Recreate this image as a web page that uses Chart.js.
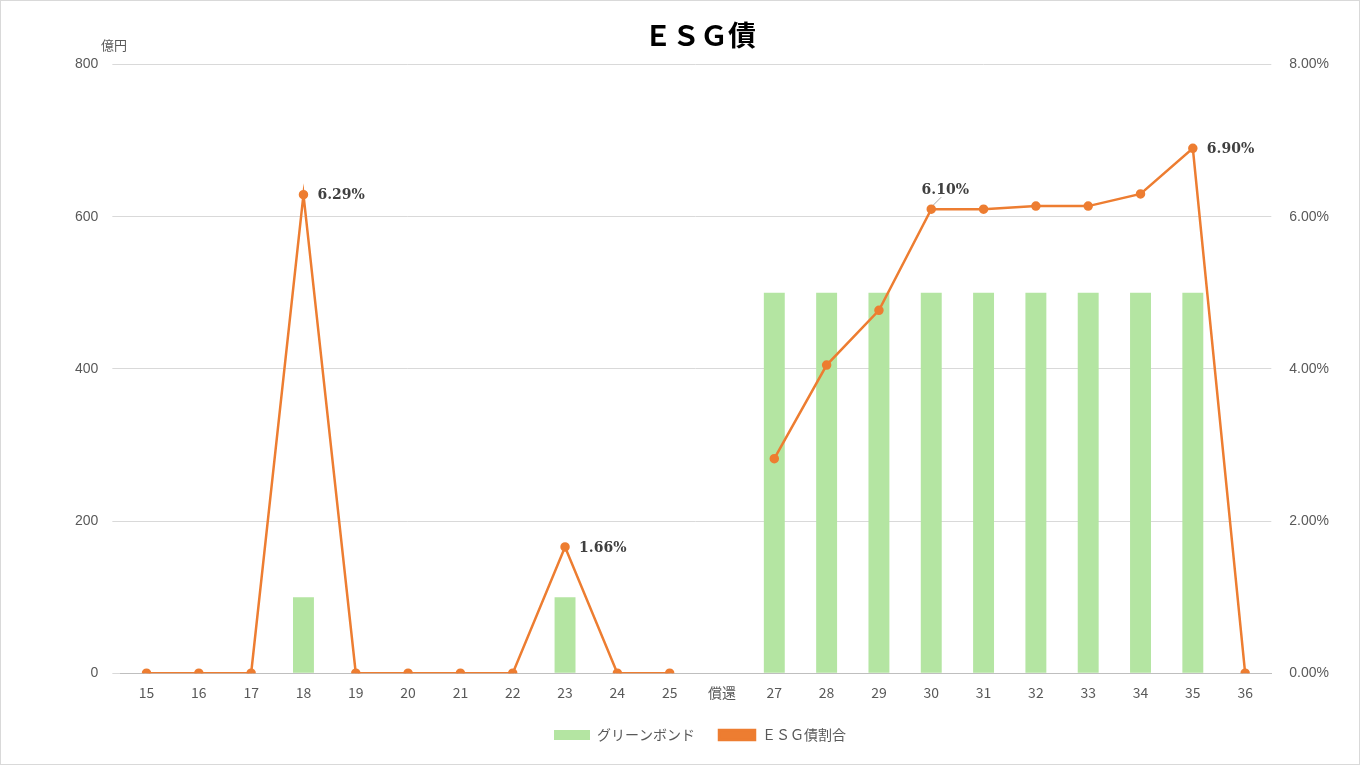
<!DOCTYPE html>
<html>
<head>
<meta charset="utf-8">
<script src="https://cdn.jsdelivr.net/npm/chart.js@4/dist/chart.umd.min.js"></script>
<style>
  html, body { margin: 0; padding: 0; background: #fff; }
  #wrap { position: relative; width: 1360px; height: 765px; box-sizing: border-box; border: 1px solid #d9d9d9; }
  #unit { position: absolute; left: 100px; top: 34px; font: 13px "Noto Sans CJK JP", sans-serif; color: #595959; }
</style>
</head>
<body>
<div id="wrap">
  <div id="unit">億円</div>
  <canvas id="c" width="1358" height="763"></canvas>
</div>
<script>
// categories and series
var categories = ['15','16','17','18','19','20','21','22','23','24','25','償還','27','28','29','30','31','32','33','34','35','36'];
var greenBond = [0,0,0,100,0,0,0,0,100,0,0,null,500,500,500,500,500,500,500,500,500,0];
var esgRatio  = [0,0,0,6.29,0,0,0,0,1.66,0,0,null,2.82,4.05,4.77,6.10,6.10,6.14,6.14,6.30,6.90,0];
var labelIdx  = [3, 8, 15, 20];

var pointLabels = {
    id: 'pointLabels',
    afterDatasetsDraw: function(chart) {
        var ctx = chart.ctx;
        var meta = chart.getDatasetMeta(0);
        ctx.save();
        ctx.font = 'bold 14px "DejaVu Serif", serif';
        ctx.fillStyle = '#404040';
        ctx.textBaseline = 'middle';
        labelIdx.forEach(function(i) {
            var p = meta.data[i];
            var txt = esgRatio[i].toFixed(2) + '%';
            if (i === 15) {
                ctx.strokeStyle = '#a6a6a6';
                ctx.lineWidth = 1;
                ctx.beginPath(); ctx.moveTo(p.x + 2, p.y - 4); ctx.lineTo(p.x + 10, p.y - 12); ctx.stroke();
                ctx.textAlign = 'center';
                ctx.fillText(txt, p.x + 14, p.y - 19);
            } else {
                ctx.textAlign = 'left';
                ctx.fillText(txt, p.x + 14, p.y + 1);
            }
        });
        ctx.restore();
    }
};

new Chart(document.getElementById('c'), {
    data: {
        labels: categories,
        datasets: [
            { type: 'line', label: 'ＥＳＧ債割合', data: esgRatio, yAxisID: 'y1', borderColor: '#ed7d31', backgroundColor: '#ed7d31',
              borderWidth: 2.5, pointRadius: 3.5, pointHoverRadius: 3.5, tension: 0, spanGaps: false, order: 0 },
            { type: 'bar', label: 'グリーンボンド', data: greenBond, yAxisID: 'y', backgroundColor: '#b4e5a2',
              categoryPercentage: 0.8, barPercentage: 0.5, order: 1 }
        ]
    },
    options: {
        responsive: false, animation: false,
        layout: { padding: { left: 60, right: 20, top: 18, bottom: 12 } },
        scales: {
            x: { grid: { display: false }, border: { color: '#bfbfbf' },
                 ticks: { color: '#595959', font: { size: 14, family: '"Noto Sans CJK JP", sans-serif' }, maxRotation: 0, autoSkip: false } },
            y: { min: 0, max: 800, ticks: { stepSize: 200, color: '#595959', font: { size: 14 }, padding: 14 },
                 grid: { color: '#d9d9d9' }, border: { display: false } },
            y1: { position: 'right', min: 0, max: 8, ticks: { stepSize: 2, color: '#595959', font: { size: 14 }, padding: 10,
                  callback: function(v) { return v.toFixed(2) + '%'; } }, grid: { display: false }, border: { display: false } }
        },
        plugins: {
            title: { display: true, text: 'ＥＳＧ債', color: '#000', font: { size: 28, weight: 'bold', family: '"Noto Sans CJK JP", sans-serif' }, padding: { top: 0, bottom: 12 } },
            legend: { position: 'bottom', reverse: true,
                      labels: { color: '#595959', font: { size: 14, family: '"Noto Sans CJK JP", sans-serif' }, boxWidth: 36, boxHeight: 10, padding: 24 } },
            tooltip: { enabled: false }
        }
    },
    plugins: [pointLabels]
});
</script>
</body>
</html>
